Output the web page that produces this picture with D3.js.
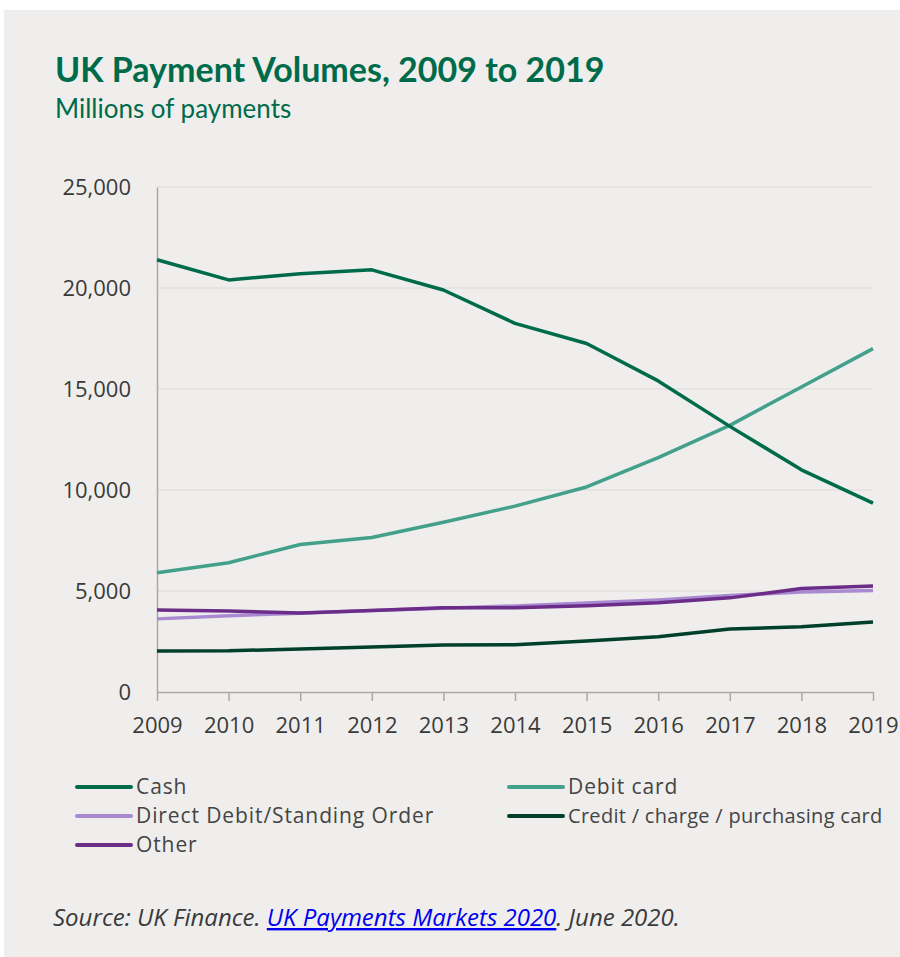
<!DOCTYPE html>
<html>
<head>
<meta charset="utf-8">
<script src="https://cdn.jsdelivr.net/npm/d3@7"></script>
<style>
  body { margin: 0; background: #fff; }
  svg { display: block; }
</style>
</head>
<body>
<script>
// jaren en reeksen (miljoenen betalingen)
var years = [2009, 2010, 2011, 2012, 2013, 2014, 2015, 2016, 2017, 2018, 2019];
var cash = [21400, 20400, 20700, 20900, 19900, 18250, 17250, 15400, 13150, 11000, 9350];
var debitCard = [5900, 6400, 7300, 7650, 8400, 9200, 10150, 11600, 13200, 15100, 17000];
var directDebit = [3620, 3780, 3900, 4030, 4150, 4260, 4400, 4560, 4780, 4950, 5030];
var creditCard = [2030, 2040, 2130, 2230, 2330, 2340, 2530, 2740, 3120, 3230, 3460];
var other = [4060, 4010, 3910, 4030, 4170, 4170, 4270, 4420, 4660, 5120, 5250];
var yTicks = [0, 5000, 10000, 15000, 20000, 25000];

var series = [
  {name: "Cash", values: cash, color: "#006b4b"},
  {name: "Debit card", values: debitCard, color: "#43a08a"},
  {name: "Direct Debit/Standing Order", values: directDebit, color: "#a98ad2"},
  {name: "Credit / charge / purchasing card", values: creditCard, color: "#003f2b"},
  {name: "Other", values: other, color: "#6b2d87"}
];
// volgorde van tekenen: lichtpaars onder donkerpaars
var drawOrder = [2, 3, 4, 1, 0];

var W = 900, H = 957;
var margin = {top: 187, left: 157, right: 27, bottom: 265};
var width = W - margin.left - margin.right,
    height = H - margin.top - margin.bottom;

var svg = d3.select("body").append("svg")
    .attr("width", W)
    .attr("height", H);

// achtergrondpaneel
svg.append("rect")
    .attr("x", 4).attr("y", 10)
    .attr("width", 896).attr("height", 947)
    .attr("fill", "#efeeec");

svg.append("text")
    .attr("x", 55).attr("y", 82)
    .attr("fill", "#006b4b")
    .style("font-family", "Lato, 'Noto Sans', sans-serif")
    .style("font-weight", "bold")
    .style("font-size", "34px")
    .text("UK Payment Volumes, 2009 to 2019");

svg.append("text")
    .attr("x", 55).attr("y", 118)
    .attr("fill", "#006b4b")
    .style("font-family", "Lato, 'Noto Sans', sans-serif")
    .style("font-size", "26px")
    .text("Millions of payments");

var x = d3.scalePoint().domain(years).range([0, width]);
var y = d3.scaleLinear().domain([0, 25000]).range([height, 0]);

var g = svg.append("g")
    .attr("transform", "translate(" + margin.left + "," + margin.top + ")");

// rasterlijnen
g.append("g")
    .selectAll("line")
    .data(yTicks.slice(1))
    .join("line")
    .attr("x1", 0).attr("x2", width)
    .attr("y1", function(d) { return y(d); })
    .attr("y2", function(d) { return y(d); })
    .attr("stroke", "#e2e1df")
    .attr("stroke-width", 1.5);

// y-as
var yAxis = g.append("g")
    .call(d3.axisLeft(y).tickValues(yTicks).tickSize(0).tickPadding(26)
      .tickFormat(d3.format(",")));
yAxis.select(".domain").attr("stroke", "#a9a9a9").attr("stroke-width", 1.5);
yAxis.selectAll("text")
    .attr("fill", "#3a3a3a")
    .style("font-family", "'Open Sans', sans-serif")
    .style("font-size", "22px");

// x-as
var xAxis = g.append("g")
    .attr("transform", "translate(0," + height + ")")
    .call(d3.axisBottom(x).tickSize(9).tickSizeOuter(0).tickPadding(16));
xAxis.select(".domain").attr("stroke", "#a9a9a9").attr("stroke-width", 1.5);
xAxis.selectAll(".tick line").attr("stroke", "#a9a9a9").attr("stroke-width", 1.5);
xAxis.selectAll("text")
    .attr("fill", "#3a3a3a")
    .style("font-family", "'Open Sans', sans-serif")
    .style("font-size", "22px");

var line = d3.line()
    .x(function(d, i) { return x(years[i]); })
    .y(function(d) { return y(d); });

drawOrder.forEach(function(k) {
  g.append("path")
      .datum(series[k].values)
      .attr("fill", "none")
      .attr("stroke", series[k].color)
      .attr("stroke-width", 3.5)
      .attr("stroke-linejoin", "round")
      .attr("d", line);
});

// legenda (kleiner lettertype zodat de regels niet overlappen)
var legendPos = [
  {x: 77, y: 787}, {x: 509, y: 787},
  {x: 77, y: 816}, {x: 509, y: 816},
  {x: 77, y: 845}
];
series.forEach(function(s, i) {
  var p = legendPos[i];
  svg.append("line")
      .attr("x1", p.x).attr("x2", p.x + 54)
      .attr("y1", p.y).attr("y2", p.y)
      .attr("stroke", s.color)
      .attr("stroke-width", 4)
      .attr("stroke-linecap", "round");
  svg.append("text")
      .attr("x", p.x + 59).attr("y", p.y + 7)
      .attr("fill", "#444")
      .style("font-family", "'Open Sans', sans-serif")
      .style("font-size", i == 3 ? "20px" : "21px")
      .style("letter-spacing", i == 3 ? "0.3px" : "0.9px")
      .text(s.name);
});

// bron
var src = svg.append("text")
    .attr("x", 53).attr("y", 926)
    .attr("fill", "#3a3a3a")
    .style("font-family", "'Open Sans', sans-serif")
    .style("font-style", "italic")
    .style("font-size", "24px");
src.append("tspan").text("Source: UK Finance. ");
src.append("tspan").attr("fill", "#0000ee").style("text-decoration", "underline")
    .text("UK Payments Markets 2020");
src.append("tspan").text(". June 2020.");
</script>
</body>
</html>
